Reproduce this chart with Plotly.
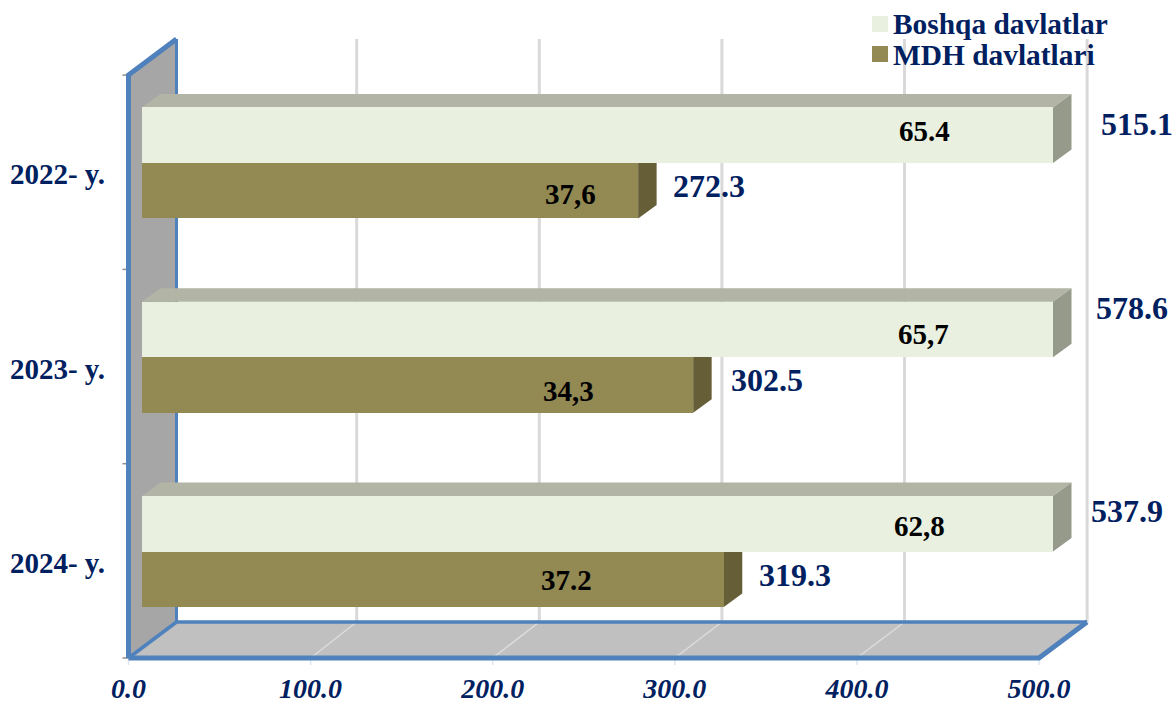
import plotly.graph_objects as go

# ---------- data ----------
years = ["2024- y.", "2023- y.", "2022- y."]
boshqa = [537.9, 578.6, 515.1]
mdh = [319.3, 302.5, 272.3]
boshqa_lbl = ["62,8", "65,7", "65.4"]
mdh_lbl = ["37.2", "34,3", "37,6"]
x_ticks = [0, 100, 200, 300, 400, 500]
x_labels = ["0.0", "100.0", "200.0", "300.0", "400.0", "500.0"]
series_names = ["Boshqa davlatlar", "MDH davlatlari"]
axis_max = 500

# ---------- geometry ----------
W, H = 1175, 704
ML, MB = 116, 35
FRONT0, FRONT_S = 128.5, 1.821      # wall axis: px of 0, px per unit
BACK0, BACK_S = 174.1, 1.826        # back wall grid
BAR0, BAR_S = 142.0, 1.822          # bar axis
BASE_PX, BAND_PX = 658.0, 194.3     # y axis
WALL_DX, WALL_DY = 48 / FRONT_S, 36 / BAND_PX
BAR_DX, BAR_DY = 18.5 / BAR_S, 13.5 / BAND_PX
BAR_W = 55.5 / BAND_PX
SPLIT = 0.548

SERIF = "Liberation Serif"
NAVY = "#002060"
BLUE = "#4F81BD"
LIGHT, DARK = "#E9F0DF", "#938953"
LIGHT_TOP, LIGHT_SIDE = "#B2B5A5", "#969A8A"
DARK_SIDE = "#665E37"


def ypx(p):
    return (BASE_PX - p) / BAND_PX


def x1px(p):
    return (p - FRONT0) / FRONT_S


def x2px(p):
    return (p - BAR0) / BAR_S


fig = go.Figure()


def poly(xs, ys, color, xaxis="x"):
    fig.add_trace(go.Scatter(x=xs, y=ys, mode="lines", fill="toself", fillcolor=color,
                             line=dict(width=0), hoverinfo="skip", showlegend=False,
                             xaxis=xaxis, yaxis="y"))


def line(xs, ys, color, width):
    fig.add_trace(go.Scatter(x=xs, y=ys, mode="lines", line=dict(color=color, width=width),
                             hoverinfo="skip", showlegend=False))


n = len(years)
# left wall and floor
poly([0, WALL_DX, WALL_DX, 0, 0], [0, WALL_DY, n + WALL_DY, n, 0], "#A6A6A6")
poly([0, axis_max, axis_max + WALL_DX, WALL_DX, 0], [0, 0, WALL_DY, WALL_DY, 0], "#C0C0C0")
# grid
for t in x_ticks[1:]:
    gx = x1px(BACK0 + BACK_S * t)
    line([gx, gx], [WALL_DY, n + WALL_DY], "#D9D9D9", 3)
    if t < axis_max:
        line([t, gx], [0, WALL_DY], "#DDDDDD", 1.5)
# tick marks
for t in x_ticks:
    line([t, t], [0, ypx(BASE_PX + 7)], "#DCE6F2", 1.5)
for i in range(n + 1):
    line([0, x1px(FRONT0 - 6)], [i, i], "#8C8C8C", 1.5)
# blue frame
line([WALL_DX, WALL_DX], [WALL_DY, n + WALL_DY], BLUE, 3)
line([WALL_DX, 0], [WALL_DY, 0], BLUE, 3.5)
line([WALL_DX, axis_max + WALL_DX], [WALL_DY, WALL_DY], BLUE, 3.5)
line([0, axis_max, axis_max + WALL_DX], [0, 0, WALL_DY], BLUE, 5)
line([0, 0, WALL_DX], [0, n, n + WALL_DY], BLUE, 5)

# 3D faces of the bars, under the front faces
for i in range(n):
    c = i + SPLIT
    e = min(boshqa[i], axis_max)
    t, b = c + BAR_W, c
    poly([0, BAR_DX, e + BAR_DX, e, 0], [t, t + BAR_DY, t + BAR_DY, t, t], LIGHT_TOP, "x2")
    poly([e, e + BAR_DX, e + BAR_DX, e, e], [t, t + BAR_DY, b + BAR_DY, b, t], LIGHT_SIDE, "x2")
    e = min(mdh[i], axis_max)
    t, b = c, c - BAR_W
    poly([e, e + BAR_DX, e + BAR_DX, e, e], [t, t + BAR_DY, b + BAR_DY, b, t], DARK_SIDE, "x2")

# front faces
fig.add_trace(go.Bar(name=series_names[0], orientation="h", xaxis="x3", yaxis="y",
                     x=[min(v, axis_max) for v in boshqa],
                     y=[i + SPLIT + BAR_W / 2 for i in range(n)], width=BAR_W, showlegend=False,
                     marker=dict(color=LIGHT, line=dict(width=0)), hoverinfo="skip"))
fig.add_trace(go.Bar(name=series_names[1], orientation="h", xaxis="x3", yaxis="y",
                     x=[min(v, axis_max) for v in mdh],
                     y=[i + SPLIT - BAR_W / 2 for i in range(n)], width=BAR_W, showlegend=False,
                     marker=dict(color=DARK, line=dict(width=0)), hoverinfo="skip"))

# legend swatches (drawn on top layer axis)
for name, col, yp in zip(series_names, [LIGHT, DARK], [24, 54]):
    fig.add_trace(go.Scatter(x=[x2px(880)], y=[ypx(yp)], mode="markers", xaxis="x3", yaxis="y",
                             marker=dict(symbol="square", size=16, color=col, line=dict(width=0)),
                             hoverinfo="skip", showlegend=False))

# value labels (centres in pixels)
out_pos = {"b": [(1127, 511), (1132, 308), (1137, 124)],
           "m": [(795, 575), (767, 380), (709, 186)]}
in_pos = {"b": [(919, 526), (923, 334), (924, 131)],
          "m": [(566, 580), (568, 391), (570, 194)]}
ann = []


def label(text, pos, color, size, anchor="center"):
    ann.append(dict(text=text, x=x2px(pos[0]), y=ypx(pos[1]), xref="x3", yref="y", showarrow=False,
                    xanchor=anchor, yanchor="middle", xshift=0, borderpad=0, borderwidth=0,
                    font=dict(family=SERIF, size=size, color=color, weight=700)))


for i in range(n):
    label(f"{boshqa[i]:.1f}", out_pos["b"][i], NAVY, 32)
    label(f"{mdh[i]:.1f}", out_pos["m"][i], NAVY, 32)
    label(boshqa_lbl[i], in_pos["b"][i], "#000000", 29)
    label(mdh_lbl[i], in_pos["m"][i], "#000000", 29)
label(series_names[0], (893, 24), NAVY, 29.4, "left")
label(series_names[1], (893, 55), NAVY, 29.4, "left")

fig.update_layout(
    width=W, height=H, autosize=False, template=None,
    margin=dict(l=ML, r=0, t=0, b=MB, pad=0),
    paper_bgcolor="white", plot_bgcolor="rgba(0,0,0,0)", showlegend=False,
    barmode="overlay", bargap=0, annotations=ann, hovermode=False,
    xaxis=dict(range=[x1px(ML), x1px(W)], tickmode="array",
               tickvals=x_ticks, ticktext=x_labels, showgrid=False, zeroline=False, showline=False,
               ticks="", tickfont=dict(family=SERIF, size=28, color=NAVY, weight=700, style="italic")),
    xaxis2=dict(range=[x2px(ML), x2px(W)], overlaying="x", visible=False),
    xaxis3=dict(range=[x2px(ML), x2px(W)], overlaying="x", visible=False),
    yaxis=dict(range=[ypx(H - MB), ypx(0)], tickmode="array",
               tickvals=[i + 0.49 for i in range(n)], ticktext=years,
               showgrid=False, zeroline=False, showline=False, ticks="", ticklabelstandoff=10,
               tickfont=dict(family=SERIF, size=29, color=NAVY, weight=700)),
)

fig.write_html("out.html", config=dict(displayModeBar=False),
               post_script="document.body.style.margin='0';")
